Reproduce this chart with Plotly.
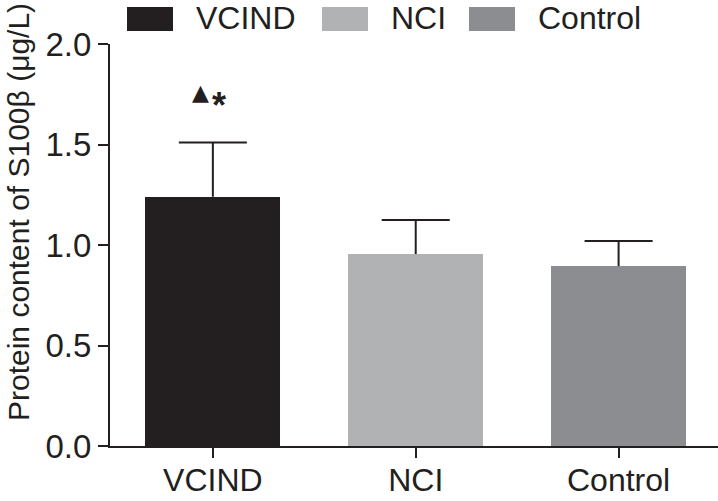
import plotly.graph_objects as go

# ---- data ----
categories = ["VCIND", "NCI", "Control"]
means = [1.24, 0.955, 0.895]
sds = [0.27, 0.17, 0.125]
sig_marks = [["▲", "*"], [], []]
y_tick_vals = [0.0, 0.5, 1.0, 1.5, 2.0]
y_tick_text = ["0.0", "0.5", "1.0", "1.5", "2.0"]
colors = ["#231f20", "#b1b2b4", "#8c8d90"]
y_title = "Protein content of S100β (μg/L)"

W, H = 718, 501
ML, MR, MT, MB = 110, 0, 44, 55
PW, PH = W - ML - MR, H - MT - MB
FONT = "Liberation Sans, Arial, sans-serif"
INK = "#231f20"

# style of each significance glyph: font, size, pixel shift
mark_style = {
    "▲": dict(family="DejaVu Sans", size=22, xshift=-12, yshift=2, bold=False),
    "*": dict(family="Liberation Sans", size=36, xshift=6, yshift=-11, bold=True),
}


def px_x(px):
    return (px - ML) / PW


def px_y(py):
    return (H - MB - py) / PH


xpos = list(range(len(categories)))

fig = go.Figure()
fig.add_trace(go.Bar(
    x=xpos, y=means, width=0.665,
    marker=dict(color=colors, line=dict(width=0)),
    showlegend=False, hoverinfo="skip",
))

# error bar stems (upper only)
sx, sy = [], []
for i, (m, s) in enumerate(zip(means, sds)):
    sx += [i, i, None]
    sy += [m, m + s, None]
fig.add_trace(go.Scatter(x=sx, y=sy, mode="lines",
                         line=dict(color=INK, width=2),
                         showlegend=False, hoverinfo="skip"))
# caps
fig.add_trace(go.Scatter(
    x=xpos, y=[m + s for m, s in zip(means, sds)], mode="markers",
    marker=dict(size=1, opacity=0),
    error_y=dict(type="data", array=[0] * len(means), width=34,
                 thickness=2, color=INK),
    showlegend=False, hoverinfo="skip"))

# significance marks
for i, (marks, m, s) in enumerate(zip(sig_marks, means, sds)):
    for mk in marks:
        st = mark_style[mk]
        txt = f"<b>{mk}</b>" if st["bold"] else mk
        fig.add_annotation(x=i, y=m + s + 0.24, text=txt, showarrow=False,
                           xref="x", yref="y", xshift=st["xshift"], yshift=st["yshift"],
                           font=dict(family=st["family"], size=st["size"], color=INK))

# manual legend
leg_sw_x = [127, 322, 469]
for c, col, x0 in zip(categories, colors, leg_sw_x):
    fig.add_shape(type="rect", xref="paper", yref="paper",
                  x0=px_x(x0), x1=px_x(x0 + 46), y0=px_y(31), y1=px_y(7),
                  fillcolor=col, line=dict(width=0))
    fig.add_annotation(x=px_x(x0 + 67), y=px_y(18.5), xref="paper", yref="paper",
                       text=c, showarrow=False, xanchor="left", yanchor="middle",
                       font=dict(family=FONT, size=32, color=INK))

# y title
fig.add_annotation(x=px_x(18), y=px_y(212), xref="paper", yref="paper",
                   text=y_title, textangle=-90, showarrow=False,
                   xanchor="center", yanchor="middle",
                   font=dict(family=FONT, size=30, color=INK))

fig.update_layout(
    template="none",
    width=W, height=H,
    margin=dict(l=ML, r=MR, t=MT, b=MB, pad=0),
    plot_bgcolor="white", paper_bgcolor="white",
    font=dict(family=FONT, color=INK),
    bargap=0,
)
fig.update_xaxes(
    range=[-0.507, 2.49], tickvals=xpos, ticktext=categories,
    automargin=False, ticklabelstandoff=-5,
    showline=True, linecolor=INK, linewidth=2,
    ticks="outside", ticklen=10, tickwidth=2, tickcolor=INK,
    showgrid=False, zeroline=False,
    tickfont=dict(size=32, family=FONT, color=INK),
)
fig.update_yaxes(
    range=[0, 2.0], tickvals=y_tick_vals, ticktext=y_tick_text,
    automargin=False,
    showline=True, linecolor=INK, linewidth=2,
    ticks="outside", ticklen=10, tickwidth=2, tickcolor=INK,
    showgrid=False, zeroline=False,
    tickfont=dict(size=33, family=FONT, color=INK),
)

fig.write_html("out.html", config={"displayModeBar": False},
               post_script="document.body.style.margin='0px';document.body.style.overflow='hidden';")
